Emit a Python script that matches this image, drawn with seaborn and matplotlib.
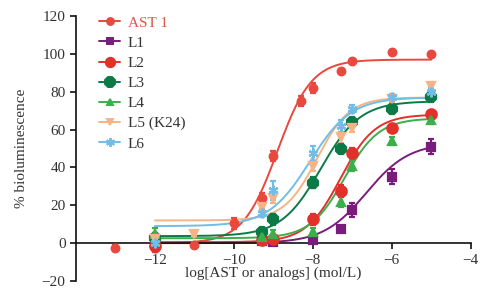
import numpy as np
import pandas as pd
import matplotlib
matplotlib.use("Agg")
import matplotlib.pyplot as plt
from matplotlib.lines import Line2D
import seaborn as sns

# series, styles
series = ["AST 1", "L1", "L2", "L3", "L4", "L5 (K24)", "L6"]
colors = ["#e8483e", "#7a1c7c", "#e2302a", "#0b7a47", "#3dae4c", "#f6b486", "#72bde6"]
markers = ["o", "s", "o", "8", "^", "v", (6, 2, 0)]
msizes = [5.5, 5.5, 7.5, 8, 5.5, 5.5, 7]

# measured points (log mol/L, % bioluminescence, SEM)
conc_ast = [-13, -12, -11, -10, -9.3, -9, -8.3, -8, -7.3, -7, -6, -5]
ast1_mean = [-2.5, -2.5, -1, 10.5, 24, 46, 75, 82, 91, 96, 101, 100]
ast1_err = [1.5, 2, 1, 3, 2.5, 2.5, 2.5, 2.5, 1, 1, 1, 1]

conc_l = [-12, -11, -9.3, -9, -8, -7.3, -7, -6, -5]
l1_mean = [0, np.nan, 1, 0.5, 1.5, 7.5, 17.5, 35, 51]
l1_err = [1, np.nan, 1, 1, 1, 1.5, 3.5, 4, 4]
l2_mean = [-1.5, np.nan, 1.5, 2, 12.5, 27.5, 47.5, 61, 68]
l2_err = [2, np.nan, 1, 1, 3, 3, 3, 2, 2]
l3_mean = [2.5, np.nan, 6, 12.5, 32, 50, 64, 71, 77]
l3_err = [3, np.nan, 1.5, 3, 3, 2, 2, 2, 2]
l4_mean = [5, np.nan, 3, 5, 6, 22, 41, 54, 65]
l4_err = [3, np.nan, 1, 2, 2, 3, 3, 2, 2]
l5_mean = [2, 5, 19, 24, 41, 56, 61, 76, 83]
l5_err = [2, 1, 2, 3, 3, 3, 2, 2, 2]
l6_mean = [0, np.nan, 16, 28, 47.5, 62, 71, 77, 80]
l6_err = [2, np.nan, 2, 5, 4, 3, 2, 2, 2]

# fitted dose-response curves: bottom, top, logEC50, hill
fit_bottom = [0, 0, 0.5, 3.7, 2.6, 12, 9]
fit_top = [97, 53, 68, 75, 66, 77, 77]
fit_logec50 = [-8.9, -6.65, -7.3, -7.8, -7.2, -7.9, -8.08]
fit_hill = [1.0, 0.8, 1.0, 0.87, 1.0, 1.05, 0.83]

points = [
    (conc_ast, ast1_mean, ast1_err),
    (conc_l, l1_mean, l1_err),
    (conc_l, l2_mean, l2_err),
    (conc_l, l3_mean, l3_err),
    (conc_l, l4_mean, l4_err),
    (conc_l, l5_mean, l5_err),
    (conc_l, l6_mean, l6_err),
]

sns.set_theme(style="ticks")
plt.rcParams["font.family"] = ["Liberation Serif", "DejaVu Serif"]
plt.rcParams["text.color"] = "#333333"

fig = plt.figure(figsize=(5.03, 2.95), dpi=100)
ax = fig.add_axes([0.151, 0.0475, 0.785, 0.898])

xs = np.linspace(-12, -5, 200)
rows = []
for i, name in enumerate(series):
    b, t, e, h = fit_bottom[i], fit_top[i], fit_logec50[i], fit_hill[i]
    ys = b + (t - b) / (1 + 10 ** (h * (e - xs)))
    rows.append(pd.DataFrame({"logc": xs, "resp": ys, "series": name}))
curves = pd.concat(rows, ignore_index=True)

sns.lineplot(data=curves, x="logc", y="resp", hue="series",
             palette=dict(zip(series, colors)), linewidth=1.4,
             legend=False, ax=ax, zorder=2)

for i, name in enumerate(series):
    x, y, err = points[i]
    ax.errorbar(x, y, yerr=err, fmt="none", ecolor=colors[i],
                elinewidth=1.6, capsize=2.5, capthick=1.6, zorder=3)
    ax.plot(x, y, linestyle="none", marker=markers[i], ms=msizes[i],
            color=colors[i], mec=colors[i], mew=1.6, zorder=4)

ax.set_xlim(-14, -4)
ax.set_ylim(-20, 120)
ax.set_xticks([-12, -10, -8, -6, -4])
ax.set_yticks([-20, 0, 20, 40, 60, 80, 100, 120])
ax.spines["bottom"].set_position(("data", 0))
ax.spines["top"].set_visible(False)
ax.spines["right"].set_visible(False)
for s in ["left", "bottom"]:
    ax.spines[s].set_linewidth(1.2)
    ax.spines[s].set_color("#111111")
ax.tick_params(axis="both", labelsize=11, colors="#111111", labelcolor="#333333",
               width=1.2, length=4, direction="out")
ax.set_xlabel("log[AST or analogs] (mol/L)", fontsize=11, color="#333333", labelpad=0)
ax.set_ylabel("% bioluminescence", fontsize=11, color="#333333", labelpad=10)

handles = [Line2D([0], [0], color=colors[i], marker=markers[i], ms=msizes[i] * 0.9,
                  mec=colors[i], mew=1.4, lw=1.4) for i in range(len(series))]
leg = ax.legend(handles, series, loc="upper left", bbox_to_anchor=(0.035, 1.035),
                frameon=False, fontsize=11, handlelength=1.4, handletextpad=0.5,
                labelspacing=0.42, borderaxespad=0.2)
for txt, c in zip(leg.get_texts(), ["#e0554c"] + ["#333333"] * 6):
    txt.set_color(c)

fig.savefig("out.png", dpi=100)
